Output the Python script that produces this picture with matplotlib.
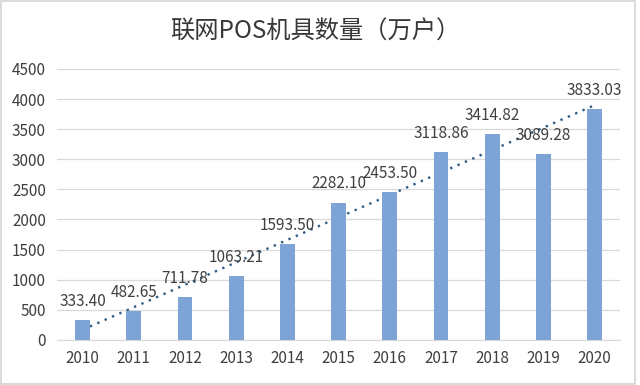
import matplotlib
matplotlib.use("Agg")
import matplotlib.pyplot as plt
import numpy as np
from matplotlib.patches import Rectangle

plt.rcParams['font.family'] = ['Noto Sans CJK SC', 'DejaVu Sans']

title = "联网POS机具数量（万户）"
years = ["2010", "2011", "2012", "2013", "2014", "2015", "2016", "2017", "2018", "2019", "2020"]
values = [333.40, 482.65, 711.78, 1063.21, 1593.50, 2282.10, 2453.50, 3118.86, 3414.82, 3089.28, 3833.03]
yticks = [0, 500, 1000, 1500, 2000, 2500, 3000, 3500, 4000, 4500]

fig = plt.figure(figsize=(6.4, 3.85), dpi=100)
fig.patch.set_facecolor("white")
fig.patches.append(Rectangle((0.002, 0.003), 0.99, 0.994, transform=fig.transFigure,
                             fill=False, edgecolor="#D4D4D4", linewidth=1.2))
ax = fig.add_axes([0.089, 0.117, 0.88, 0.704])

x = np.arange(len(years))
ax.bar(x, values, width=0.29, color="#7DA4D4", zorder=3)

# linear trendline
coef = np.polyfit(x, values, 1)
ax.plot(x, np.polyval(coef, x), linestyle=(0, (1, 2.4)), color="#2E5C87",
        linewidth=1.7, zorder=2)

for xi, v in zip(x, values):
    ax.annotate(f"{v:.2f}", (xi, v), xytext=(0, 13.5), textcoords="offset points",
                ha="center", va="center", fontsize=11, color="#404040", zorder=5)

ax.set_xlim(-0.5, len(years) - 0.5)
ax.set_ylim(0, 4500)
ax.set_yticks(yticks)
ax.set_xticks(x)
ax.set_xticklabels(years)
ax.grid(axis="y", color="#D9D9D9", linewidth=0.9, zorder=0)
for s in ["top", "right", "left"]:
    ax.spines[s].set_visible(False)
ax.spines["bottom"].set_color("#D9D9D9")
ax.spines["bottom"].set_linewidth(0.9)
ax.tick_params(axis="both", length=0, labelsize=11, colors="#404040")
ax.tick_params(axis="y", pad=8)
ax.tick_params(axis="x", pad=7)

fig.text(0.492, 0.918, title, ha="center", va="center", fontsize=17.5, color="#383838")

fig.savefig("out.png", dpi=100)
